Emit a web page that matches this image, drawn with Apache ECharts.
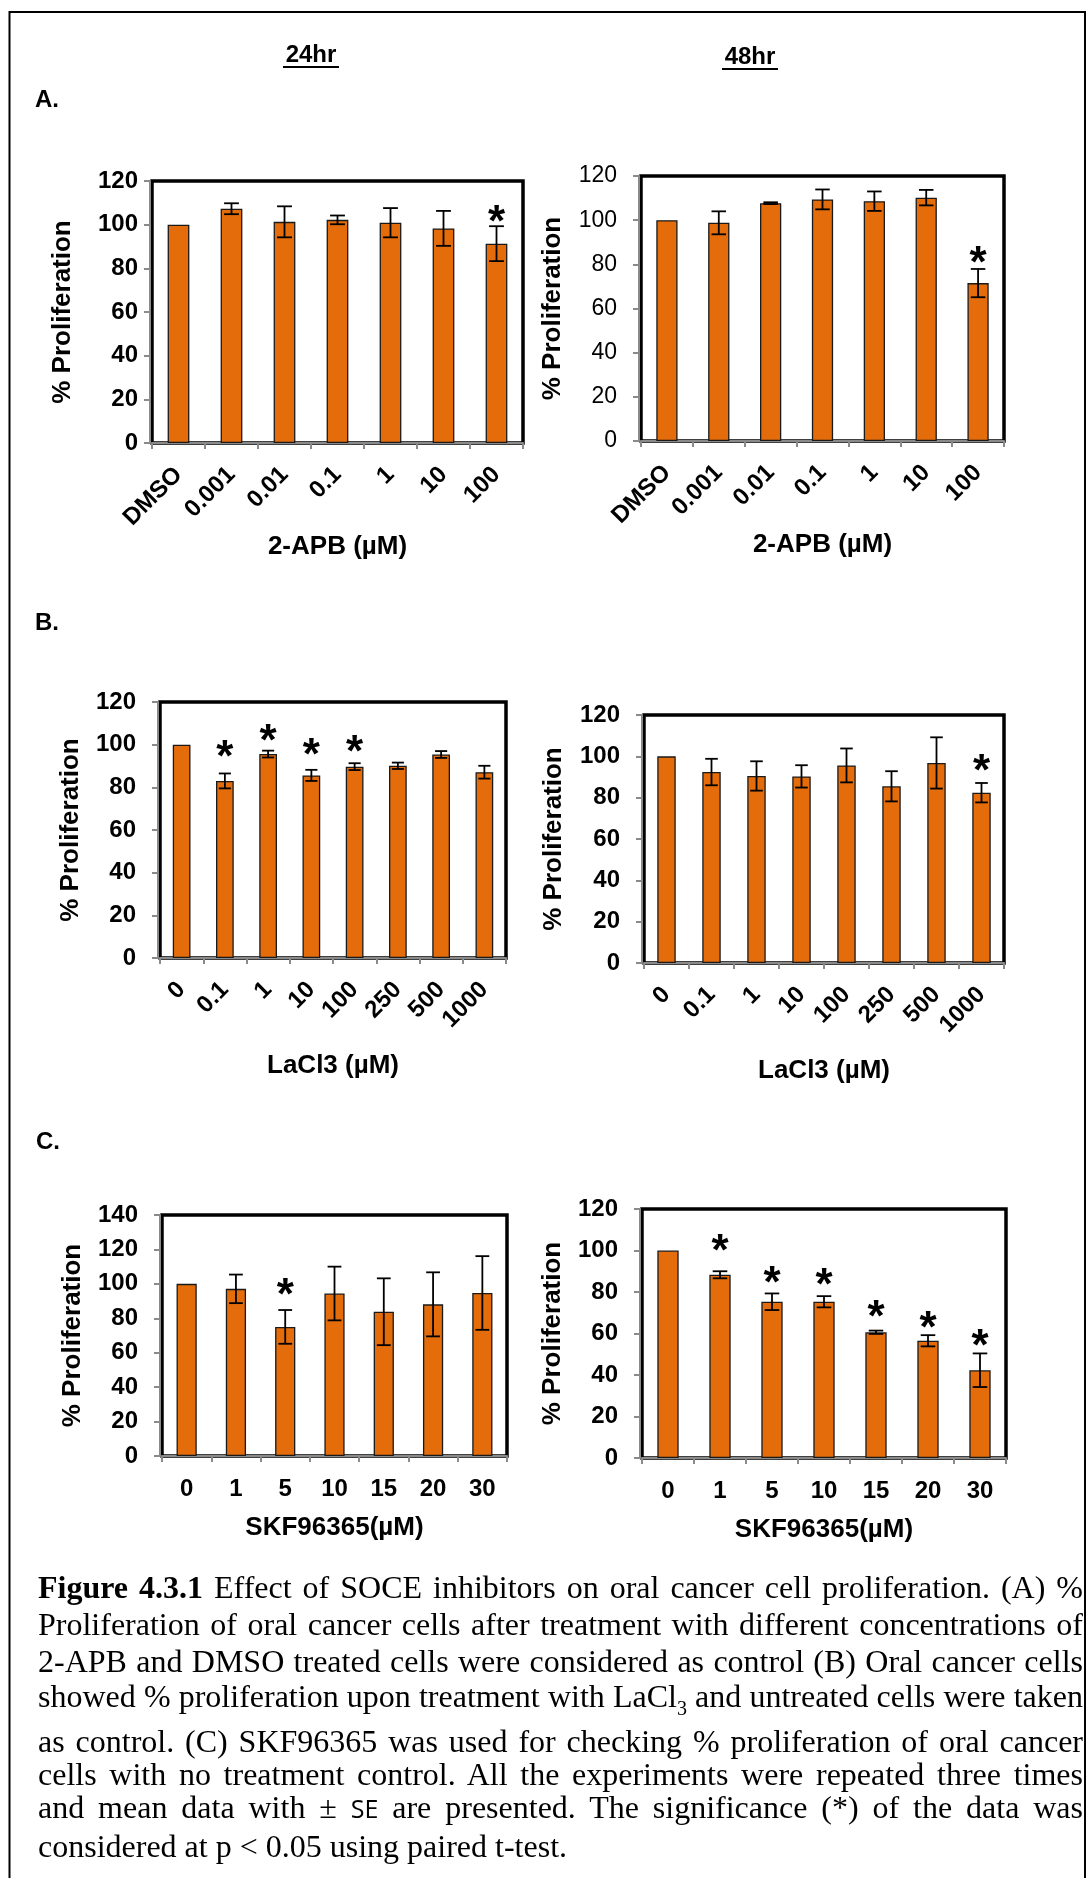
<!DOCTYPE html>
<html>
<head>
<meta charset="utf-8">
<script src="https://cdn.jsdelivr.net/npm/echarts@6/dist/echarts.min.js"></script>
<style>
  html, body { margin: 0; padding: 0; background: #fff; }
  #wrap { position: relative; width: 1088px; height: 1878px; overflow: hidden; }
  #chart { position: absolute; left: 0; top: 0; width: 1088px; height: 1878px; }
  .cap { position: absolute; left: 38px; width: 1045px; font-family: 'Liberation Serif', 'Times New Roman', serif;
         font-size: 32px; line-height: 37px; color: #000; white-space: nowrap; }
  .cap.j { text-align: justify; text-align-last: justify; }
  .cap sub { font-size: 20px; line-height: 0; vertical-align: -8px; }
  .sans { font-family: 'Open Sans', sans-serif; font-size: 25px; }
</style>
</head>
<body>
<div id="wrap">
  <div id="chart"></div>
  <div class="cap j" style="top:1569px"><b>Figure 4.3.1</b> Effect of SOCE inhibitors on oral cancer cell proliferation. (A) %</div>
  <div class="cap j" style="top:1606px">Proliferation of oral cancer cells after treatment with different concentrations of</div>
  <div class="cap j" style="top:1643px">2-APB and DMSO treated cells were considered as control (B) Oral cancer cells</div>
  <div class="cap j" style="top:1678px">showed % proliferation upon treatment with LaCl<sub>3</sub> and untreated cells were taken</div>
  <div class="cap j" style="top:1723px">as control. (C) SKF96365 was used for checking % proliferation of oral cancer</div>
  <div class="cap j" style="top:1756px">cells with no treatment control. All the experiments were repeated three times</div>
  <div class="cap j" style="top:1789px">and mean data with ± <span class="sans">SE</span> are presented. The significance (*) of the data was</div>
  <div class="cap" style="top:1828px">considered at p &lt; 0.05 using paired t-test.</div>
</div>
<script>
// categories
const catsAPB = ['DMSO', '0.001', '0.01', '0.1', '1', '10', '100']
const catsLa = ['0', '0.1', '1', '10', '100', '250', '500', '1000']
const catsSKF = ['0', '1', '5', '10', '15', '20', '30']

// % proliferation (mean), error (+/-), star height (null = no star)
const apb24 = [100, 107.3, 101.3, 102.2, 100.9, 98.3, 91.3]
const apb24Err = [0, 2.5, 7.1, 2.0, 6.7, 8.0, 8.0]
const apb24Star = [null, null, null, null, null, null, 104.4]

const apb48 = [100, 98.8, 107.7, 109.4, 108.6, 110.2, 71.5]
const apb48Err = [0, 5.2, 0.4, 4.5, 4.4, 3.5, 6.4]
const apb48Star = [null, null, null, null, null, null, 83.8]

const la24 = [100, 83.0, 95.6, 85.6, 89.7, 90.1, 95.4, 87.1]
const la24Err = [0, 3.5, 1.6, 2.6, 1.6, 1.5, 1.6, 3.0]
const la24Star = [null, 97.5, 105.3, 98.3, 99.7, null, null, null]

const la48 = [100, 92.4, 90.5, 90.3, 95.6, 85.5, 96.8, 82.4]
const la48Err = [0, 6.4, 7.1, 5.4, 8.2, 7.3, 12.4, 4.7]
const la48Star = [null, null, null, null, null, null, null, 96.6]

const skf24 = [100, 97.1, 75.0, 94.4, 83.8, 88.1, 94.7]
const skf24Err = [0, 8.3, 9.8, 15.6, 19.4, 18.6, 21.4]
const skf24Star = [null, null, 97.9, null, null, null, null]

const skf48 = [100, 88.3, 75.3, 75.3, 60.6, 56.5, 42.3]
const skf48Err = [0, 1.7, 4.0, 2.7, 0.8, 2.7, 8.1]
const skf48Star = [null, 103.4, 88.0, 86.7, 71.3, 66.0, 57.6]

const FONT = "'Liberation Sans', Arial, sans-serif"
const BAR = '#E46C0A'
const AXIS_GRAY = '#8a8a8a'

const panels = [
  { box: [152, 181, 371, 262], cats: catsAPB, vals: apb24, errs: apb24Err, stars: apb24Star, max: 120,
    rotate: 45, xName: '2-APB (µM)', xGap: 88, yMargin: 12, yGap: 74, yBold: true },
  { box: [641, 176, 363, 265], cats: catsAPB, vals: apb48, errs: apb48Err, stars: apb48Star, max: 120,
    rotate: 45, xName: '2-APB (µM)', xGap: 85, yMargin: 22, yGap: 73, yBold: false },
  { box: [160, 702, 346, 256], cats: catsLa, vals: la24, errs: la24Err, stars: la24Star, max: 120,
    rotate: 45, xName: 'LaCl3 (µM)', xGap: 93, yMargin: 22, yGap: 74, yBold: true },
  { box: [644, 715, 360, 248], cats: catsLa, vals: la48, errs: la48Err, stars: la48Star, max: 120,
    rotate: 45, xName: 'LaCl3 (µM)', xGap: 93, yMargin: 22, yGap: 75, yBold: true },
  { box: [162, 1215, 345, 241], cats: catsSKF, vals: skf24, errs: skf24Err, stars: skf24Star, max: 140,
    rotate: 0, xName: 'SKF96365(µM)', xGap: 57, yMargin: 22, yGap: 74, yBold: true },
  { box: [642, 1209, 364, 249], cats: catsSKF, vals: skf48, errs: skf48Err, stars: skf48Star, max: 120,
    rotate: 0, xName: 'SKF96365(µM)', xGap: 57, yMargin: 22, yGap: 74, yBold: true }
]

function errorBar(params, api) {
  const v = api.value(1)
  const e = api.value(2)
  if (!e) return
  const top = api.coord([api.value(0), v + e])
  const bot = api.coord([api.value(0), v - e])
  const half = api.size([1, 0])[0] * 0.14
  const st = { stroke: '#000', lineWidth: 1.8 }
  return {
    type: 'group',
    children: [
      { type: 'line', shape: { x1: top[0], y1: top[1], x2: bot[0], y2: bot[1] }, style: st },
      { type: 'line', shape: { x1: top[0] - half, y1: top[1], x2: top[0] + half, y2: top[1] }, style: st },
      { type: 'line', shape: { x1: bot[0] - half, y1: bot[1], x2: bot[0] + half, y2: bot[1] }, style: st }
    ]
  }
}

function starMark(params, api) {
  const p = api.coord([api.value(0), api.value(1)])
  return {
    type: 'text',
    x: p[0],
    y: p[1] + 9,
    style: { text: '*', fontSize: 44, fontWeight: 'bold', fontFamily: FONT, fill: '#000',
             align: 'center', verticalAlign: 'middle' }
  }
}

let grids = [], xAxes = [], yAxes = [], series = []
panels.forEach((p, i) => {
  grids.push({
    left: p.box[0], top: p.box[1], width: p.box[2], height: p.box[3],
    show: true, borderColor: '#000', borderWidth: 3.5, backgroundColor: 'transparent'
  })
  xAxes.push({
    gridIndex: i,
    type: 'category',
    data: p.cats,
    offset: 2,
    axisLine: { lineStyle: { color: AXIS_GRAY, width: 2 } },
    axisTick: { show: true, length: 6, lineStyle: { color: AXIS_GRAY, width: 2 } },
    axisLabel: { rotate: p.rotate, margin: p.rotate ? 26 : 19, fontSize: 24, fontWeight: 'bold',
                 color: '#000', fontFamily: FONT, interval: 0 },
    name: p.xName,
    nameLocation: 'middle',
    nameGap: p.xGap,
    nameTextStyle: { fontSize: 26, fontWeight: 'bold', color: '#000', fontFamily: FONT },
    splitLine: { show: false }
  })
  yAxes.push({
    gridIndex: i,
    type: 'value',
    min: 0, max: p.max, interval: 20,
    offset: 2,
    axisLine: { show: true, lineStyle: { color: AXIS_GRAY, width: 2 } },
    axisTick: { show: true, length: 6, lineStyle: { color: AXIS_GRAY, width: 2 } },
    axisLabel: { margin: p.yMargin, fontSize: p.yBold ? 24 : 23, fontWeight: p.yBold ? 'bold' : 'normal',
                 color: '#000', fontFamily: FONT },
    splitLine: { show: false },
    name: '% Proliferation',
    nameLocation: 'middle',
    nameGap: p.yGap,
    nameTextStyle: { fontSize: 26, fontWeight: 'bold', color: '#000', fontFamily: FONT }
  })
  series.push({
    type: 'bar', xAxisIndex: i, yAxisIndex: i,
    data: p.vals,
    barWidth: '41%',
    itemStyle: { color: BAR, borderColor: '#1a1a1a', borderWidth: 1.3 },
    silent: true
  })
  series.push({
    type: 'custom', xAxisIndex: i, yAxisIndex: i, z: 5,
    renderItem: errorBar,
    data: p.vals.map((v, k) => [k, v, p.errs[k]]),
    silent: true
  })
  series.push({
    type: 'custom', xAxisIndex: i, yAxisIndex: i, z: 6,
    renderItem: starMark,
    data: p.stars.map((s, k) => [k, s]).filter(d => d[1] != null),
    silent: true
  })
})

function title(txt, x, y, w) {
  return [
    { type: 'text', x: x, y: y, style: { text: txt, fontSize: 24, fontWeight: 'bold', fontFamily: FONT,
      fill: '#000', align: 'center', verticalAlign: 'middle' } },
    { type: 'line', shape: { x1: x - w / 2, y1: y + 12, x2: x + w / 2, y2: y + 12 }, style: { stroke: '#000', lineWidth: 2 } }
  ]
}
function panelTag(txt, x, y) {
  return { type: 'text', x: x, y: y, style: { text: txt, fontSize: 24, fontWeight: 'bold', fontFamily: FONT,
    fill: '#000', align: 'left', verticalAlign: 'middle' } }
}

const chart = echarts.init(document.getElementById('chart'), null, { renderer: 'canvas' })
chart.setOption({
  animation: false,
  backgroundColor: '#fff',
  textStyle: { fontFamily: FONT },
  grid: grids,
  xAxis: xAxes,
  yAxis: yAxes,
  series: series,
  graphic: [
    { type: 'polyline', shape: { points: [[9.5, 1878], [9.5, 12], [1085, 12], [1085, 1878]] },
      style: { stroke: '#000', lineWidth: 2, fill: null } },
    ...title('24hr', 311, 55, 56),
    ...title('48hr', 750, 57, 56),
    panelTag('A.', 35, 100),
    panelTag('B.', 35, 623),
    panelTag('C.', 36, 1142)
  ]
})
</script>
</body>
</html>
